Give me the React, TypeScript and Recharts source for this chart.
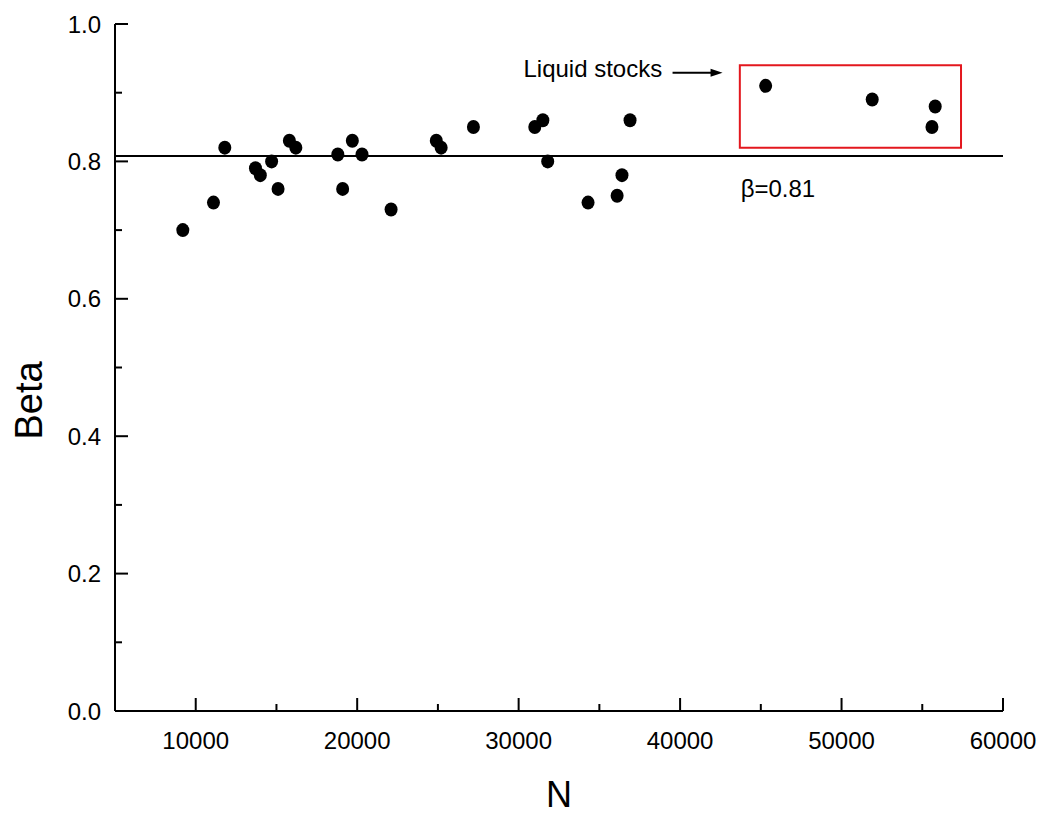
import React from 'react';
import {
  ScatterChart,
  Scatter,
  XAxis,
  YAxis,
  ReferenceLine,
  ReferenceArea,
  ReferenceDot,
} from 'recharts';

// values
const nValues = [
  9200, 11100, 11800, 13700, 14000, 14700, 15100, 15800, 16200, 18800,
  19100, 19700, 20300, 22100, 24900, 25200, 27200, 31000, 31500, 31800,
  34300, 36100, 36400, 36900, 45300, 51900, 55600, 55800,
];
const betaValues = [
  0.70, 0.74, 0.82, 0.79, 0.78, 0.80, 0.76, 0.83, 0.82, 0.81,
  0.76, 0.83, 0.81, 0.73, 0.83, 0.82, 0.85, 0.85, 0.86, 0.80,
  0.74, 0.75, 0.78, 0.86, 0.91, 0.89, 0.85, 0.88,
];

const xTicks = [10000, 15000, 20000, 25000, 30000, 35000, 40000, 45000, 50000, 55000, 60000];
const yTicks = [0, 0.1, 0.2, 0.3, 0.4, 0.5, 0.6, 0.7, 0.8, 0.9, 1.0];
const xMajor = [10000, 20000, 30000, 40000, 50000, 60000];
const yMajor = [0, 0.2, 0.4, 0.6, 0.8, 1.0];

const meanBeta = 0.808;
const liquidBox = { x1: 43700, x2: 57400, y1: 0.82, y2: 0.94 };

const data = nValues.map((n, i) => ({ n, beta: betaValues[i] }));

const FONT = '"Liberation Sans", Arial, sans-serif';
const isMajorY = (v: number) => yMajor.some(m => Math.abs(m - v) < 1e-6);
const isMajorX = (v: number) => xMajor.includes(v);

const LeftTick = (props: any) => {
  const { x, y, payload } = props;
  const major = isMajorY(payload.value);
  const ax = x + 14;
  return (
    <g>
      <line x1={ax} x2={ax + (major ? 13 : 7)} y1={y} y2={y} stroke="#000" strokeWidth={2} />
      {major && (
        <text x={x} y={y + 8.5} textAnchor="end" fontSize={24} fontFamily={FONT} fill="#000">
          {payload.value.toFixed(1)}
        </text>
      )}
    </g>
  );
};

const RightTick = (props: any) => {
  const { x, y, payload } = props;
  const major = isMajorY(payload.value);
  return <line x1={x} x2={x - (major ? 13 : 7)} y1={y} y2={y} stroke="#000" strokeWidth={2} />;
};

const BottomTick = (props: any) => {
  const { x, y, payload } = props;
  const major = isMajorX(payload.value);
  return (
    <g>
      <line x1={x} x2={x} y1={y} y2={y - (major ? 13 : 7)} stroke="#000" strokeWidth={2} />
      {major && (
        <text x={x} y={y + 38} textAnchor="middle" fontSize={24} fontFamily={FONT} fill="#000">
          {payload.value}
        </text>
      )}
    </g>
  );
};

const TopTick = (props: any) => {
  const { x, y, payload } = props;
  const major = isMajorX(payload.value);
  return <line x1={x} x2={x} y1={y} y2={y + (major ? 13 : 7)} stroke="#000" strokeWidth={2} />;
};

const Dot = (props: any) => <ellipse cx={props.cx} cy={props.cy} rx={6.5} ry={7} fill="#000" />;

export default function App() {
  const axisLine = { stroke: '#000', strokeWidth: 2 };
  return (
    <div style={{ position: 'absolute', left: 0, top: 0, background: '#fff' }}>
      <ScatterChart width={1045} height={817} margin={{ top: 24, right: 42, bottom: 0, left: 0 }}>
        <XAxis
          type="number"
          dataKey="n"
          domain={[5000, 60000]}
          allowDataOverflow
          ticks={xTicks}
          interval={0}
          height={106}
          tickSize={0}
          tickMargin={0}
          tickLine={false}
          axisLine={axisLine}
          tick={<BottomTick />}
          label={{
            content: ({ viewBox }: any) => (
              <text
                x={viewBox.x + viewBox.width / 2}
                y={viewBox.y + 96}
                textAnchor="middle"
                fontSize={36}
                fontFamily={FONT}
                fill="#000"
              >
                N
              </text>
            ),
          }}
        />
        <XAxis
          xAxisId="top"
          orientation="top"
          type="number"
          domain={[5000, 60000]}
          allowDataOverflow
          ticks={xTicks}
          interval={0}
          height={0}
          tickSize={0}
          tickMargin={0}
          tickLine={false}
          axisLine={axisLine}
          tick={<TopTick />}
        />
        <YAxis
          type="number"
          dataKey="beta"
          domain={[0, 1]}
          allowDataOverflow
          ticks={yTicks}
          interval={0}
          width={115}
          tickSize={0}
          tickMargin={14}
          tickLine={false}
          axisLine={axisLine}
          tick={<LeftTick />}
          label={{
            content: ({ viewBox }: any) => {
              const lx = viewBox.x + 42;
              const ly = viewBox.y + viewBox.height / 2 + 33;
              return (
                <text
                  x={lx}
                  y={ly}
                  transform={`rotate(-90, ${lx}, ${ly})`}
                  textAnchor="middle"
                  fontSize={38}
                  fontFamily={FONT}
                  fill="#000"
                >
                  Beta
                </text>
              );
            },
          }}
        />
        <YAxis
          yAxisId="right"
          orientation="right"
          type="number"
          domain={[0, 1]}
          allowDataOverflow
          ticks={yTicks}
          interval={0}
          width={0}
          tickSize={0}
          tickMargin={0}
          tickLine={false}
          axisLine={axisLine}
          tick={<RightTick />}
        />
        <ReferenceLine y={meanBeta} stroke="#000" strokeWidth={2} />
        <ReferenceArea
          x1={liquidBox.x1}
          x2={liquidBox.x2}
          y1={liquidBox.y1}
          y2={liquidBox.y2}
          stroke="#e3171e"
          strokeWidth={2}
          fill="none"
          fillOpacity={0}
        />
        <ReferenceDot
          x={30300}
          y={0.9224}
          r={0}
          shape={(p: any) => (
            <text x={p.cx} y={p.cy} fontSize={24} fontFamily={FONT} fill="#000">
              Liquid stocks
            </text>
          )}
        />
        <ReferenceDot
          x={42630}
          y={0.929}
          r={0}
          shape={(p: any) => (
            <g>
              <line x1={p.cx - 50} x2={p.cx - 10} y1={p.cy} y2={p.cy} stroke="#000" strokeWidth={2} />
              <polygon points={`${p.cx},${p.cy} ${p.cx - 12},${p.cy - 4} ${p.cx - 12},${p.cy + 4}`} fill="#000" />
            </g>
          )}
        />
        <ReferenceDot
          x={43750}
          y={0.7486}
          r={0}
          shape={(p: any) => (
            <text x={p.cx} y={p.cy} fontSize={24} fontFamily={FONT} fill="#000">
              β=0.81
            </text>
          )}
        />
        <Scatter data={data} fill="#000" shape={<Dot />} isAnimationActive={false} />
      </ScatterChart>
    </div>
  );
}
